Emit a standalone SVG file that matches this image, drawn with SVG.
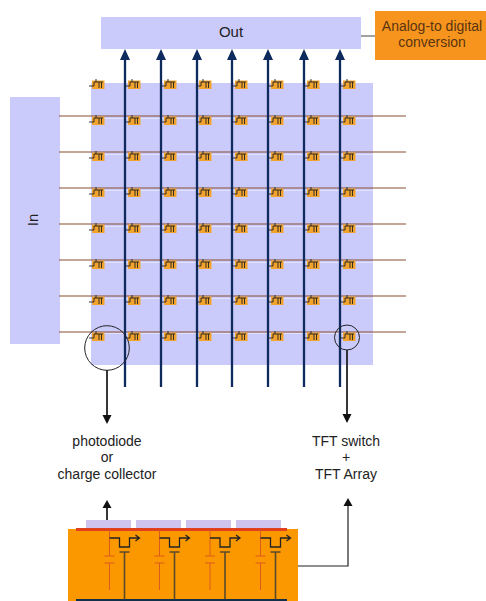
<svg xmlns="http://www.w3.org/2000/svg" xmlns:xlink="http://www.w3.org/1999/xlink" width="486" height="601" viewBox="0 0 486 601">
<style>
text{font-family:"Liberation Sans",Arial,sans-serif;font-size:14px;fill:#222;text-anchor:middle}
.lav{fill:#cbcbfb}
.row{stroke:#8a4f34;stroke-width:1.2;fill:none}
.col{stroke:#0f2a5c;stroke-width:2.3;fill:none}
.blk{stroke:#222;stroke-width:1.8;fill:none}
.org{stroke:#dc5a1c;stroke-width:1;fill:none}
.sw{stroke:#222;stroke-width:1.3;fill:none}
.gate{stroke:#5a4a2a;stroke-width:1.6;fill:none}
</style>
<defs>
<g id="t">
<rect x="0" y="-4.500" width="12.500" height="8.500" fill="#f2a32e"/>
<path d="M-3 1H2V-3H11M4 -6V-3M7 -3V3M9.500 -3V3" fill="none" stroke="#222" stroke-width="0.9"/>
</g>
<g id="u">
<path class="org" d="M0 0V26M0 33V60M-5 26H5M-5 33H5"/>
<path class="sw" d="M0 8H10V17H20V8H29M26 5L30 8L26 11"/>
<path class="gate" d="M15 22V70M10 22H20"/>
</g>
</defs>

<g id="in"><rect class="lav" x="10" y="97" width="50" height="247"/><text transform="translate(38 220) rotate(-90)" style="font-size:15px">In</text></g>
<g id="out"><rect class="lav" x="101" y="17" width="260" height="32"/><text x="231" y="37" style="font-size:15px">Out</text></g>
<g id="adc">
<path d="M361 36H375" stroke="#444" fill="none"/>
<rect x="375" y="11" width="111" height="49" fill="#f7941d"/>
<text x="432" y="31" style="fill:#5a3410">Analog-to digital</text>
<text x="432" y="47" style="fill:#5a3410">conversion</text>
</g>

<g id="pixels">
<rect class="lav" x="91" y="83" width="282" height="282"/>
<path stroke="#e2e2fd" stroke-width="1" fill="none" d="M91 118.500H373M91 154.500H373M91 190.500H373M91 226.500H373M91 262.500H373M91 298.500H373M91 333.500H373"/>
</g>

<g id="connectors">
<path class="row" d="M59 116H406M59 152H406M59 188H406M59 224H406M59 260H406M59 296H406M59 332H406"/>
<path class="col" d="M125 387V55M161 387V55M197 387V55M232 387V55M268 387V55M304 387V55M340 387V55"/>
<path fill="#0f2a5c" d="M125 49l-5 11h10zM161 49l-5 11h10zM197 49l-5 11h10zM232 49l-5 11h10zM268 49l-5 11h10zM304 49l-5 11h10zM340 49l-5 11h10z"/>
</g>

<g id="switches">
<use xlink:href="#t" x="92" y="85"/><use xlink:href="#t" x="128" y="85"/><use xlink:href="#t" x="164" y="85"/><use xlink:href="#t" x="199" y="85"/><use xlink:href="#t" x="235" y="85"/><use xlink:href="#t" x="271" y="85"/><use xlink:href="#t" x="307" y="85"/><use xlink:href="#t" x="343" y="85"/>
<use xlink:href="#t" x="92" y="121"/><use xlink:href="#t" x="128" y="121"/><use xlink:href="#t" x="164" y="121"/><use xlink:href="#t" x="199" y="121"/><use xlink:href="#t" x="235" y="121"/><use xlink:href="#t" x="271" y="121"/><use xlink:href="#t" x="307" y="121"/><use xlink:href="#t" x="343" y="121"/>
<use xlink:href="#t" x="92" y="157"/><use xlink:href="#t" x="128" y="157"/><use xlink:href="#t" x="164" y="157"/><use xlink:href="#t" x="199" y="157"/><use xlink:href="#t" x="235" y="157"/><use xlink:href="#t" x="271" y="157"/><use xlink:href="#t" x="307" y="157"/><use xlink:href="#t" x="343" y="157"/>
<use xlink:href="#t" x="92" y="193"/><use xlink:href="#t" x="128" y="193"/><use xlink:href="#t" x="164" y="193"/><use xlink:href="#t" x="199" y="193"/><use xlink:href="#t" x="235" y="193"/><use xlink:href="#t" x="271" y="193"/><use xlink:href="#t" x="307" y="193"/><use xlink:href="#t" x="343" y="193"/>
<use xlink:href="#t" x="92" y="229"/><use xlink:href="#t" x="128" y="229"/><use xlink:href="#t" x="164" y="229"/><use xlink:href="#t" x="199" y="229"/><use xlink:href="#t" x="235" y="229"/><use xlink:href="#t" x="271" y="229"/><use xlink:href="#t" x="307" y="229"/><use xlink:href="#t" x="343" y="229"/>
<use xlink:href="#t" x="92" y="265"/><use xlink:href="#t" x="128" y="265"/><use xlink:href="#t" x="164" y="265"/><use xlink:href="#t" x="199" y="265"/><use xlink:href="#t" x="235" y="265"/><use xlink:href="#t" x="271" y="265"/><use xlink:href="#t" x="307" y="265"/><use xlink:href="#t" x="343" y="265"/>
<use xlink:href="#t" x="92" y="301"/><use xlink:href="#t" x="128" y="301"/><use xlink:href="#t" x="164" y="301"/><use xlink:href="#t" x="199" y="301"/><use xlink:href="#t" x="235" y="301"/><use xlink:href="#t" x="271" y="301"/><use xlink:href="#t" x="307" y="301"/><use xlink:href="#t" x="343" y="301"/>
<use xlink:href="#t" x="92" y="337"/><use xlink:href="#t" x="128" y="337"/><use xlink:href="#t" x="164" y="337"/><use xlink:href="#t" x="199" y="337"/><use xlink:href="#t" x="235" y="337"/><use xlink:href="#t" x="271" y="337"/><use xlink:href="#t" x="307" y="337"/><use xlink:href="#t" x="343" y="337"/>
</g>

<g id="callouts">
<circle cx="107" cy="348" r="22.300" fill="none" stroke="#222" stroke-width="1"/>
<circle cx="347" cy="337.500" r="12.500" fill="none" stroke="#222" stroke-width="1"/>
<path class="blk" d="M107 370V416M347 350V416"/>
<path fill="#111" d="M102.500 415h9l-4.500 9zM342.500 414h9l-4.500 9z"/>
</g>

<g id="labels">
<text x="107" y="446">photodiode</text><text x="107" y="462">or</text><text x="107" y="479">charge collector</text>
<text x="346" y="446">TFT switch</text><text x="346" y="462">+</text><text x="346" y="479">TFT Array</text>
</g>

<g id="panel">
<rect x="68" y="529" width="230" height="72" fill="#fb9800"/>
<rect x="86" y="520" width="45" height="8" fill="#cfc4ee"/><rect x="136" y="520" width="45" height="8" fill="#cfc4ee"/><rect x="186" y="520" width="45" height="8" fill="#cfc4ee"/><rect x="236" y="520" width="45" height="8" fill="#cfc4ee"/>
<rect x="76" y="528" width="211" height="3" fill="#e0401c"/>
<use xlink:href="#u" x="109.500" y="530"/><use xlink:href="#u" x="159.500" y="530"/><use xlink:href="#u" x="210" y="530"/><use xlink:href="#u" x="260.500" y="530"/>
<rect x="76" y="599" width="211" height="2" fill="#12304a"/>
<path class="blk" d="M107 520V506"/><path fill="#111" d="M102.500 508h9l-4.500-8z"/>
<path class="blk" d="M298 566H348V505" style="stroke-width:1.2"/><path fill="#111" d="M343.500 506h9l-4.500-8z"/>
</g>
</svg>
